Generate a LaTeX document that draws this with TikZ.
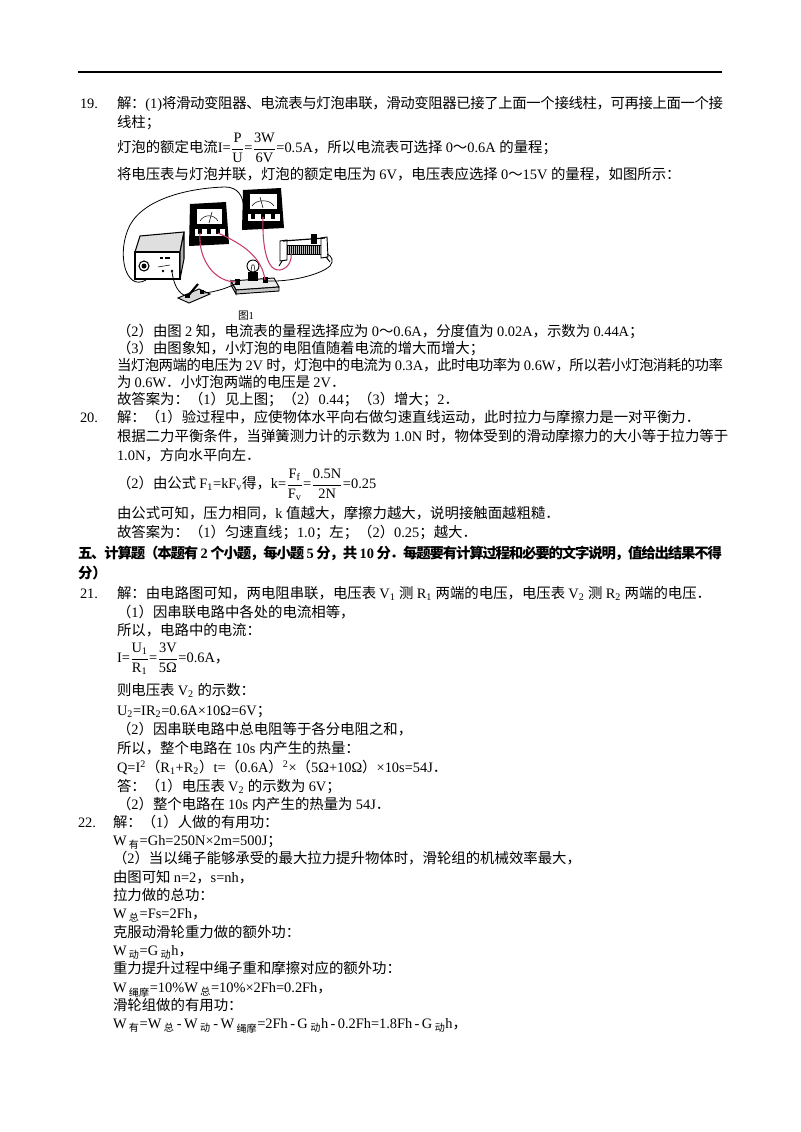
\documentclass[tikz,border=0pt]{standalone}
\usepackage{fontspec}
\usepackage{amsmath}
\setmainfont{Liberation Serif}
\newfontfamily\cjk{Noto Sans CJK SC}
\newdimen\pxu \pxu=0.75pt
\newXeTeXintercharclass\CJKcls
\newcount\cjkc
\def\setcjkrange#1#2{\cjkc=#1\relax\loop\XeTeXcharclass\cjkc=\CJKcls\relax\advance\cjkc by 1\relax\ifnum\cjkc<#2\repeat}
\setcjkrange{"3000}{"3040}
\setcjkrange{"4E00}{"A000}
\setcjkrange{"FE30}{"FE70}
\setcjkrange{"FF00}{"FFF0}
\XeTeXinterchartoks 0 \CJKcls = {\cjk}
\XeTeXinterchartoks 4095 \CJKcls = {\cjk}
\XeTeXinterchartoks \CJKcls 0 = {\rmfamily}
\XeTeXinterchartoks 4095 0 = {\rmfamily}
\XeTeXinterchartoks \CJKcls \CJKcls = {\hskip 0pt plus 1pt minus 1pt\relax}
\XeTeXinterchartokenstate=1
\newcommand\fr[2]{$\dfrac{\text{#1}}{\text{#2}}$}
\definecolor{wirered}{RGB}{200,60,110}
\begin{document}
\begin{tikzpicture}[x=0.75pt,y=-0.75pt,
  txt/.style={anchor=base west,inner sep=0pt,outer sep=0pt,font=\fontsize{10.8}{13}\selectfont},
  bold/.style={txt,font=\fontsize{10.8}{13}\selectfont\bfseries},
  wire/.style={line width=0.6pt,black},
  rwire/.style={line width=0.8pt,wirered}]
\useasboundingbox[fill=white] (0,0) rectangle (800,1132);
\draw[line width=1.1pt] (78,72) -- (722,72);

% ---------- 19 ----------
\node[txt] (n19) at (80,108.5) {19.};
\node[txt] (a1) at (117,108.5) {\hbox to 606\pxu{解：(1)将滑动变阻器、电流表与灯泡串联，滑动变阻器已接了上面一个接线柱，可再接上面一个接}};
\node[txt] (a2) at (117,127.5) {线柱；};
\node[txt] (a3) at (117,152.5) {灯泡的额定电流I=\fr{P}{U}=\fr{3W}{6V}=0.5A，所以电流表可选择 0～0.6A 的量程；};
\node[txt] (a4) at (117,179.5) {将电压表与灯泡并联，灯泡的额定电压为 6V，电压表应选择 0～15V 的量程，如图所示：};

% ---------- figure ----------
% power supply
\draw[fill=gray!25,line width=0.8pt] (135,252) -- (140,236) -- (184,232) -- (180,252) -- cycle;
\draw[fill=white,line width=0.8pt] (135,252) rectangle (180,279);
\draw[fill=gray!60,line width=0.8pt] (180,252) -- (184,232) -- (184,259) -- (180,279) -- cycle;
\draw[line width=0.8pt,fill=white] (144,266) circle (5);
\fill (144,266) circle (2.5);
\fill (160,257) rectangle (163,259);
\fill (165,257) rectangle (170,259);
\draw (158,267) -- (170,265);
\fill (163,271) circle (1.4);
\fill (172,271) circle (1.4);
% switch
\draw[fill=gray!30,line width=0.7pt] (178,298) -- (199,289) -- (210,294) -- (189,303) -- cycle;
\fill (185,294) rectangle (190,298);
\fill (200,290) rectangle (204,294);
\draw[line width=1.6pt] (188,296) -- (198,284);
% ammeter
\fill (190,204) -- (226,202) -- (229,244) -- (189,246) -- cycle;
\draw[fill=white] (196,208) rectangle (222,224);
\draw (200,221) .. controls (204,214) and (214,214) .. (218,221);
\draw (209,223) -- (212,212);
\draw[fill=white] (194,228) rectangle (225,236);
\fill (198,229) rectangle (202,234);
\fill (207,229) rectangle (211,234);
\fill (216,229) rectangle (220,234);
% voltmeter
\fill (243,190) -- (281,188) -- (284,228) -- (242,230) -- cycle;
\draw[fill=white] (249,193) rectangle (277,209);
\draw (252,206) .. controls (256,199) and (270,199) .. (274,206);
\draw (263,208) -- (260,197);
\draw[fill=white] (247,213) rectangle (280,221);
\fill (251,214) rectangle (255,219);
\fill (261,214) rectangle (265,219);
\fill (271,214) rectangle (275,219);
% rheostat
\draw[fill=white,line width=0.7pt] (280,241) -- (287,240) -- (287,260) -- (280,261) -- cycle;
\draw[fill=gray!50,line width=0.7pt] (287,245) rectangle (321,254);
\foreach \i in {289,291,...,319} \draw[line width=0.3pt] (\i,245) -- (\i,254);
\draw[fill=white,line width=0.7pt] (321,238) -- (327,237) -- (328,257) -- (321,258) -- cycle;
\draw[line width=0.9pt] (283,241) -- (325,238);
\fill (311,234) rectangle (317,244);
\draw[line width=0.7pt] (282,261) -- (279,266);
\draw[line width=0.7pt] (326,257) -- (330,262);
% bulb on base
\draw[fill=gray!15,line width=0.7pt] (231,281) -- (274,278) -- (279,287) -- (236,290) -- cycle;
\draw[fill=gray!45,line width=0.7pt] (236,290) -- (279,287) -- (279,291) -- (236,294) -- cycle;
\draw[fill=gray!45,line width=0.7pt] (231,281) -- (236,290) -- (236,294) -- (231,285) -- cycle;
\fill (248,272) rectangle (258,281);
\draw[fill=white,line width=0.7pt] (253,266) circle (6);
\draw[line width=0.4pt] (251,271) -- (252,265) -- (254,265) -- (255,271);
\fill (235,279) rectangle (240,285);
\fill (263,277) rectangle (268,283);
% black wires
\draw[wire] (146,280) .. controls (125,292) and (116,252) .. (130,225) .. controls (145,198) and (190,188) .. (225,187) .. controls (238,187) and (243,196) .. (244,208);
\draw[wire] (172,272) .. controls (174,285) and (178,293) .. (186,296);
\draw[wire] (204,293) .. controls (215,292) and (228,288) .. (237,283);
\draw[wire] (267,281) .. controls (290,282) and (320,275) .. (330,266) .. controls (334,261) and (332,256) .. (327,254);
% red wires
\draw[rwire] (200,233) .. controls (198,260) and (215,282) .. (236,282);
\draw[rwire] (218,233) .. controls (245,245) and (262,258) .. (265,280);
\draw[rwire] (263,217) .. controls (262,250) and (268,272) .. (280,270) .. controls (290,268) and (292,258) .. (291,253);
\node[txt,font=\fontsize{8}{9}\selectfont] (cap) at (238,319) {图1};

\node[txt] (b1) at (117,336.5) {（2）由图 2 知，电流表的量程选择应为 0～0.6A，分度值为 0.02A，示数为 0.44A；};
\node[txt] (b2) at (117,353.5) {（3）由图象知，小灯泡的电阻值随着电流的增大而增大；};
\node[txt] (b3) at (117,370.5) {\hbox to 606\pxu{当灯泡两端的电压为 2V 时，灯泡中的电流为 0.3A，此时电功率为 0.6W，所以若小灯泡消耗的功率}};
\node[txt] (b4) at (117,387.5) {为 0.6W．小灯泡两端的电压是 2V．};
\node[txt] (b5) at (117,404.5) {故答案为：（1）见上图；（2）0.44；（3）增大；2．};

% ---------- 20 ----------
\node[txt] (n20) at (80,422.5) {20.};
\node[txt] (c1) at (117,422.5) {解：（1）验过程中，应使物体水平向右做匀速直线运动，此时拉力与摩擦力是一对平衡力．};
\node[txt] (c2) at (117,441.5) {根据二力平衡条件，当弹簧测力计的示数为 1.0N 时，物体受到的滑动摩擦力的大小等于拉力等于};
\node[txt] (c3) at (117,460.5) {1.0N，方向水平向左．};
\node[txt] (c4) at (117,488.5) {（2）由公式 F\textsubscript{1}=kF\textsubscript{v}得，k=\fr{F\textsubscript{f}}{F\textsubscript{v}}=\fr{0.5N}{2N}=0.25};
\node[txt] (c5) at (117,518.5) {由公式可知，压力相同，k 值越大，摩擦力越大，说明接触面越粗糙．};
\node[txt] (c6) at (117,537.5) {故答案为：（1）匀速直线；1.0；左；（2）0.25；越大．};

% ---------- heading ----------
\node[bold] (h1) at (78,558.5) {\hbox to 644\pxu{五、计算题（本题有 2 个小题，每小题 5 分，共 10 分．每题要有计算过程和必要的文字说明，值给出结果不得}};
\node[bold] (h2) at (78,578.5) {分）};

% ---------- 21 ----------
\node[txt] (n21) at (80,598.5) {21.};
\node[txt] (d1) at (117,598.5) {解：由电路图可知，两电阻串联，电压表 V\textsubscript{1} 测 R\textsubscript{1} 两端的电压，电压表 V\textsubscript{2} 测 R\textsubscript{2} 两端的电压．};
\node[txt] (d2) at (117,617.5) {（1）因串联电路中各处的电流相等，};
\node[txt] (d3) at (117,635.5) {所以，电路中的电流：};
\node[txt] (d4) at (117,662.5) {I=\fr{U\textsubscript{1}}{R\textsubscript{1}}=\fr{3V}{5Ω}=0.6A，};
\node[txt] (d5) at (117,695.5) {则电压表 V\textsubscript{2} 的示数：};
\node[txt] (d6) at (117,715.5) {U\textsubscript{2}=IR\textsubscript{2}=0.6A×10Ω=6V；};
\node[txt] (d7) at (117,734.5) {（2）因串联电路中总电阻等于各分电阻之和，};
\node[txt] (d8) at (117,753.5) {所以，整个电路在 10s 内产生的热量：};
\node[txt] (d9) at (117,772.5) {Q=I\textsuperscript{2}（R\textsubscript{1}+R\textsubscript{2}）t=（0.6A）\textsuperscript{2}×（5Ω+10Ω）×10s=54J．};
\node[txt] (d10) at (117,791.5) {答：（1）电压表 V\textsubscript{2} 的示数为 6V；};
\node[txt] (d11) at (117,809.5) {（2）整个电路在 10s 内产生的热量为 54J．};

% ---------- 22 ----------
\node[txt] (n22) at (78,827.5) {22.};
\node[txt] (e1) at (113,827.5) {解：（1）人做的有用功：};
\node[txt] (e2) at (113,845.5) {W\,\textsubscript{有}=Gh=250N×2m=500J；};
\node[txt] (e3) at (113,863.5) {（2）当以绳子能够承受的最大拉力提升物体时，滑轮组的机械效率最大，};
\node[txt] (e4) at (113,882.5) {由图可知 n=2，s=nh，};
\node[txt] (e5) at (113,900.5) {拉力做的总功：};
\node[txt] (e6) at (113,918.5) {W\,\textsubscript{总}=Fs=2Fh，};
\node[txt] (e7) at (113,937.5) {克服动滑轮重力做的额外功：};
\node[txt] (e8) at (113,955.5) {W\,\textsubscript{动}=G\,\textsubscript{动}h，};
\node[txt] (e9) at (113,973.5) {重力提升过程中绳子重和摩擦对应的额外功：};
\node[txt] (e10) at (113,992.5) {W\,\textsubscript{绳摩}=10\%W\,\textsubscript{总}=10\%×2Fh=0.2Fh，};
\node[txt] (e11) at (113,1010.5) {滑轮组做的有用功：};
\node[txt] (e12) at (113,1028.5) {W\,\textsubscript{有}=W\,\textsubscript{总}\,-\,W\,\textsubscript{动}\,-\,W\,\textsubscript{绳摩}=2Fh\,-\,G\,\textsubscript{动}h\,-\,0.2Fh=1.8Fh\,-\,G\,\textsubscript{动}h，};
\end{tikzpicture}
\end{document}
